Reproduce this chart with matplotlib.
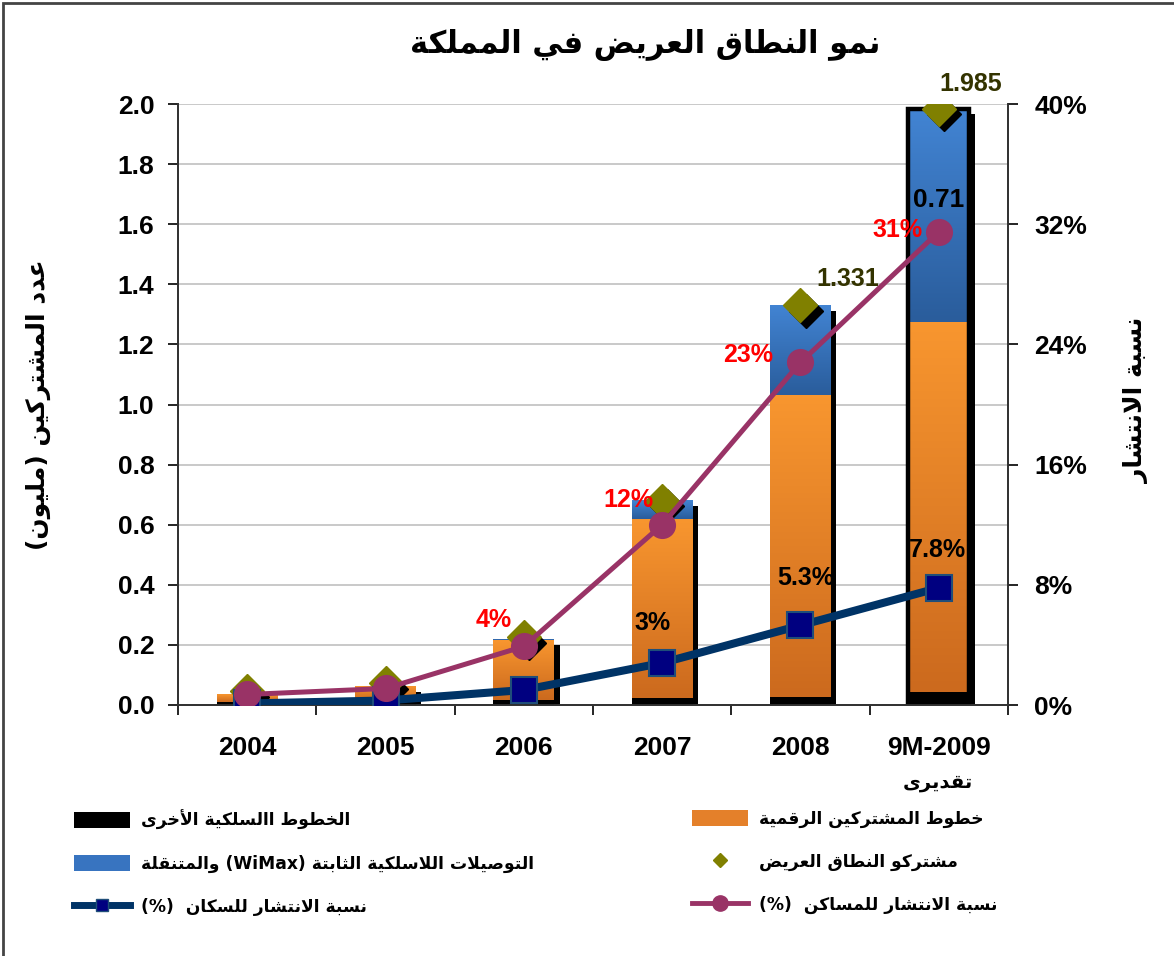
import re
import numpy as np
import matplotlib
matplotlib.use("Agg")
import matplotlib.pyplot as plt
from matplotlib.patches import Rectangle
from matplotlib.lines import Line2D
from matplotlib.patches import Patch
import matplotlib.transforms as mtransforms

# ---------------- data ----------------
years = ['2004', '2005', '2006', '2007', '2008', '9M-2009']
other_wired = [0.010, 0.012, 0.018, 0.023, 0.027, 0.043]
dsl = [0.025, 0.051, 0.198, 0.597, 1.003, 1.232]
wimax = [0.000, 0.000, 0.004, 0.062, 0.301, 0.710]
total_subs = [0.047, 0.073, 0.226, 0.680, 1.331, 1.985]
household_pct = [0.7, 1.1, 3.9, 12.0, 22.8, 31.5]
population_pct = [0.1, 0.3, 1.0, 2.8, 5.3, 7.8]

household_labels = ['', '', '4%', '12%', '23%', '31%']
population_labels = ['', '', '', '3%', '5.3%', '7.8%']
total_labels = ['', '', '', '', '1.331', '1.985']
wimax_labels = ['', '', '', '', '', '0.71']

left_ticks = [0.0, 0.2, 0.4, 0.6, 0.8, 1.0, 1.2, 1.4, 1.6, 1.8, 2.0]
right_ticks = [0, 8, 16, 24, 32, 40]

title_txt = 'نمو النطاق العريض في المملكة'
ylabel_left = 'عدد المشتركين (مليون)'
ylabel_right = 'نسبة الانتشار'
estimate_txt = 'تقديرى'
leg_other = 'الخطوط االسلكية الأخرى'
leg_dsl = 'خطوط المشتركين الرقمية'
leg_wimax = 'التوصيلات اللاسلكية الثابتة (WiMax) والمتنقلة'
leg_total = 'مشتركو النطاق العريض'
leg_pop = 'نسبة الانتشار للسكان  (%)'
leg_house = 'نسبة الانتشار للمساكن  (%)'

# ---------------- arabic shaping ----------------
DUAL = {'\u0626': 0xFE89, '\u0628': 0xFE8F, '\u062A': 0xFE95, '\u062B': 0xFE99,
        '\u062C': 0xFE9D, '\u062D': 0xFEA1, '\u062E': 0xFEA5, '\u0633': 0xFEB1,
        '\u0634': 0xFEB5, '\u0635': 0xFEB9, '\u0636': 0xFEBD, '\u0637': 0xFEC1,
        '\u0638': 0xFEC5, '\u0639': 0xFEC9, '\u063A': 0xFECD, '\u0641': 0xFED1,
        '\u0642': 0xFED5, '\u0643': 0xFED9, '\u0644': 0xFEDD, '\u0645': 0xFEE1,
        '\u0646': 0xFEE5, '\u0647': 0xFEE9, '\u064A': 0xFEF1}
RIGHT = {'\u0622': 0xFE81, '\u0623': 0xFE83, '\u0624': 0xFE85, '\u0625': 0xFE87,
         '\u0627': 0xFE8D, '\u0629': 0xFE93, '\u062F': 0xFEA9, '\u0630': 0xFEAB,
         '\u0631': 0xFEAD, '\u0632': 0xFEAF, '\u0648': 0xFEED, '\u0649': 0xFEEF}
LAMALEF = {'\u0622': 0xFEF5, '\u0623': 0xFEF7, '\u0625': 0xFEF9, '\u0627': 0xFEFB}


def shape(s):
    out = []
    i, n = 0, len(s)
    while i < n:
        c = s[i]
        p = i > 0 and s[i - 1] in DUAL
        if c == '\u0644' and i + 1 < n and s[i + 1] in LAMALEF:
            out.append(chr(LAMALEF[s[i + 1]] + (1 if p else 0)))
            i += 2
            continue
        if c in DUAL:
            nx = i + 1 < n and (s[i + 1] in DUAL or s[i + 1] in RIGHT)
            b = DUAL[c]
            out.append(chr(b + (3 if (p and nx) else 1 if p else 2 if nx else 0)))
        elif c in RIGHT:
            out.append(chr(RIGHT[c] + (1 if p else 0)))
        elif c == '\u0621':
            out.append('\uFE80')
        else:
            out.append(c)
        i += 1
    return ''.join(out)


def ar(s):
    sh = shape(s)
    runs = re.findall(r'[A-Za-z0-9.]+|[^A-Za-z0-9.]', sh)
    mirror = {'(': ')', ')': '(', '[': ']', ']': '['}
    vis = [r if re.match(r'[A-Za-z0-9]', r) else mirror.get(r, r) for r in reversed(runs)]
    return ''.join(vis)


# ---------------- style ----------------
plt.rcParams['font.family'] = ['Liberation Sans', 'DejaVu Sans']
AR_FONT = ['DejaVu Sans']
TICK_FS = 19
LAB_FS = 18

W, H = 1174, 956
fig = plt.figure(figsize=(W / 100, H / 100), dpi=100)
ax = fig.add_axes([178 / W, 1 - 705 / H, 830 / W, 601 / H])
ax2 = ax.twinx()

x = np.arange(len(years))
bw = 0.44
ax.set_xlim(-0.5, len(years) - 0.5)
ax.set_ylim(0, 2.0)
ax2.set_ylim(0, 40)

ax.set_zorder(1)
ax2.set_zorder(2)
ax2.patch.set_visible(False)

# grid
for t in left_ticks[1:]:
    ax.axhline(t, color='#c0c0c0', lw=1.2, zorder=0)

shadow_tr = mtransforms.offset_copy(ax.transData, fig=fig, x=3.8, y=-4.2, units='points')


def grad_bar(xc, bottom, height, ctop, cbot, z):
    if height <= 0:
        return
    cmap = matplotlib.colors.LinearSegmentedColormap.from_list('g', [cbot, ctop])
    grad = np.linspace(1, 0, 64).reshape(-1, 1)
    im = ax.imshow(grad, cmap=cmap, aspect='auto', interpolation='bicubic',
                   extent=[xc - bw / 2, xc + bw / 2, bottom, bottom + height],
                   origin='upper', zorder=z)
    r = Rectangle((xc - bw / 2, bottom), bw, height, transform=ax.transData,
                  facecolor='none', edgecolor='none')
    ax.add_patch(r)
    im.set_clip_path(r)


tops = []
for i in range(len(years)):
    top = other_wired[i] + dsl[i] + wimax[i]
    tops.append(top)
    # shadow
    ax.add_patch(Rectangle((x[i] - bw / 2, 0), bw, top, transform=shadow_tr,
                           facecolor='black', edgecolor='none', zorder=2))
    ax.bar(x[i], other_wired[i], bw, color='black', zorder=3)
    grad_bar(x[i], other_wired[i], dsl[i], '#F8962F', '#CC6A1E', 3)
    grad_bar(x[i], other_wired[i] + dsl[i], wimax[i], '#4284D3', '#2A5D9C', 3)

# framed last bar
last = len(years) - 1
ax.add_patch(Rectangle((x[last] - bw / 2, 0), bw, tops[last], facecolor='none',
                       edgecolor='black', lw=3.2, zorder=4))

# diamonds with shadow
ax.plot(x, total_subs, linestyle='none', marker='D', ms=17, color='black',
        transform=shadow_tr, zorder=5)
ax.plot(x, total_subs, linestyle='none', marker='D', ms=17, color='#808000',
        zorder=6)

# lines on right axis
ax2.plot(x, population_pct, color='#003366', lw=5.8, marker='s', ms=19,
         mfc='#000080', mec='#1F4E79', mew=1.5, zorder=3)
ax2.plot(x, household_pct, color='#993366', lw=3.6, marker='o', ms=18.5,
         mfc='#993366', mec='#993366', zorder=4)

# labels
house_off = [(0, 0), (0, 0), (-9, 19), (-6, 18), (-20, 5), (-12, 1)]
for i, lab in enumerate(household_labels):
    if lab:
        ax2.annotate(lab, (x[i], household_pct[i]), xytext=house_off[i],
                     textcoords='offset points', ha='right', va='center',
                     color='#FF0000', fontsize=LAB_FS, fontweight='bold', zorder=10)
pop_off = [(0, 0), (0, 0), (0, 0), (-7, 29), (4, 34), (-1, 27)]
for i, lab in enumerate(population_labels):
    if lab:
        ax2.annotate(lab, (x[i], population_pct[i]), xytext=pop_off[i],
                     textcoords='offset points', ha='center', va='center',
                     color='black', fontsize=LAB_FS, fontweight='bold', zorder=10)
tot_off = [(0, 0), (0, 0), (0, 0), (0, 0), (34, 19), (23, 18)]
for i, lab in enumerate(total_labels):
    if lab:
        ax.annotate(lab, (x[i], total_subs[i]), xytext=tot_off[i],
                    textcoords='offset points', ha='center', va='center',
                    color='#333300', fontsize=LAB_FS, fontweight='bold', zorder=10)
for i, lab in enumerate(wimax_labels):
    if lab:
        ax.annotate(lab, (x[i], other_wired[i] + dsl[i] + wimax[i] / 2),
                    xytext=(0, 11), textcoords='offset points', ha='center',
                    va='center', color='black', fontsize=LAB_FS + 1, fontweight='bold',
                    zorder=10)

# axes styling
ax.set_yticks(left_ticks)
ax.set_yticklabels([f'{t:.1f}' for t in left_ticks], fontsize=TICK_FS, fontweight='bold')
ax2.set_yticks(right_ticks)
ax2.set_yticklabels([f'{t}%' for t in right_ticks], fontsize=TICK_FS, fontweight='bold')
ax.set_xticks(x)
ax.set_xticklabels(years, fontsize=TICK_FS, fontweight='bold')
ax.tick_params(axis='x', length=0, pad=22)
ax.set_xticks(np.arange(len(years) + 1) - 0.5, minor=True)
ax.tick_params(axis='x', which='minor', length=7, width=1.2, direction='out')
ax.tick_params(axis='y', length=7, width=1.2, direction='out', pad=10)
ax2.tick_params(axis='y', length=7, width=1.2, direction='out', pad=12)
for a in (ax, ax2):
    a.spines['top'].set_visible(False)
    for s in ('left', 'bottom', 'right'):
        a.spines[s].set_linewidth(1.3)
        a.spines[s].set_color('#333333')

# texts
fig.text(645 / W, 1 - 45 / H, ar(title_txt), ha='center', va='center',
         fontsize=22, fontweight='bold', family=AR_FONT)
fig.text(38 / W, 1 - 405 / H, ar(ylabel_left), ha='center', va='center',
         rotation=90, fontsize=18, fontweight='bold', family=AR_FONT)
fig.text(1136 / W, 1 - 400 / H, ar(ylabel_right), ha='center', va='center',
         rotation=90, fontsize=18, fontweight='bold', family=AR_FONT)
fig.text(938 / W, 1 - 783 / H, ar(estimate_txt), ha='center', va='center',
         fontsize=14, fontweight='bold', family=AR_FONT)

# legends
fs = 12.3
h_other = Patch(facecolor='black', edgecolor='none')
h_dsl = Patch(facecolor='#E4802A', edgecolor='none')
h_wimax = Patch(facecolor='#3874C0', edgecolor='none')
h_total = Line2D([], [], linestyle='none', marker='D', ms=7, color='#808000')
h_pop = Line2D([], [], color='#003366', lw=5, marker='s', ms=9, mfc='#000080',
               mec='#1F4E79')
h_house = Line2D([], [], color='#993366', lw=3.5, marker='o', ms=11)

common = dict(frameon=False, handlelength=3.3, handleheight=1.05,
              handletextpad=0.6, labelspacing=1.45, borderpad=0, borderaxespad=0,
              loc='upper left', prop={'family': AR_FONT, 'weight': 'bold', 'size': fs})
leg1 = fig.legend([h_other, h_wimax, h_pop],
                  [ar(leg_other), ar(leg_wimax), ar(leg_pop)],
                  bbox_to_anchor=(74 / W, 1 - 810 / H), **common)
leg2 = fig.legend([h_dsl, h_total, h_house],
                  [ar(leg_dsl), ar(leg_total), ar(leg_house)],
                  bbox_to_anchor=(692 / W, 1 - 810 / H), **common)

# outer border
fig.add_artist(Rectangle((3 / W, -0.01), 1.02, 1 - 3 / H + 0.01, transform=fig.transFigure,
                         facecolor='none', edgecolor='#444444', lw=2))

fig.savefig('out.png', dpi=100)
